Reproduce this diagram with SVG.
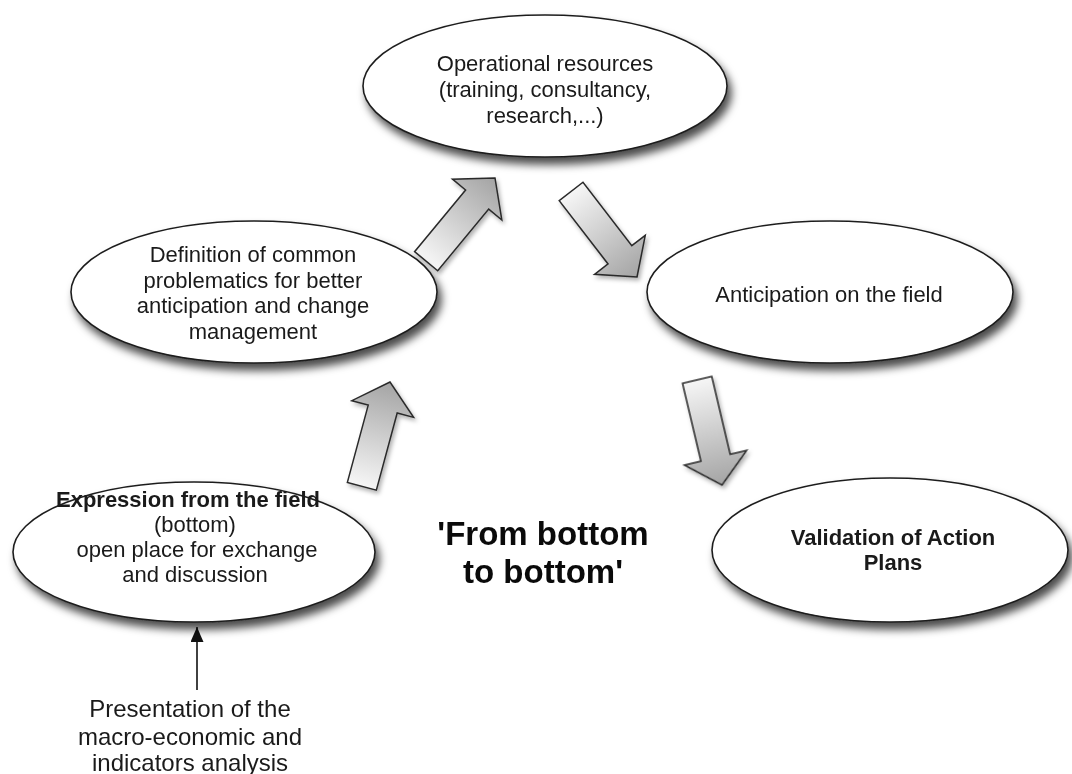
<svg xmlns="http://www.w3.org/2000/svg" width="1072" height="774" viewBox="0 0 1072 774">
  <style>
    .node { fill: #ffffff; stroke: #1e1e1e; stroke-width: 1.6; }
    .t { font-family: "Liberation Sans", Arial, sans-serif; font-size: 22px; fill: #1a1a1a; text-anchor: middle; }
    .b { font-weight: bold; }
    .big { font-family: "Liberation Sans", Arial, sans-serif; font-size: 33px; font-weight: bold; fill: #0a0a0a; text-anchor: middle; }
    .note { font-family: "Liberation Sans", Arial, sans-serif; font-size: 24px; fill: #1a1a1a; text-anchor: middle; }
    .fat { fill: url(#arrowFill); stroke: #2a2a2a; stroke-width: 1.5; stroke-linejoin: miter; }
    .thin { stroke: #111111; stroke-width: 1.6; fill: none; }
  </style>
  <defs>
    <filter id="nodeShadow" x="-20%" y="-25%" width="145%" height="160%">
      <feDropShadow dx="4" dy="7" stdDeviation="4" flood-color="#000000" flood-opacity="0.7"/>
    </filter>
    <filter id="arrowShadow" x="-30%" y="-30%" width="160%" height="160%">
      <feDropShadow dx="2" dy="3" stdDeviation="2" flood-color="#000000" flood-opacity="0.3"/>
    </filter>
    <linearGradient id="arrowFill" x1="0" y1="0" x2="1" y2="0">
      <stop offset="0" stop-color="#f6f6f6"/>
      <stop offset="1" stop-color="#a4a4a4"/>
    </linearGradient>
    <!-- block arrow, tip at origin, pointing along +x -->
    <path id="fatArrow" class="fat" d="M0,0 L-28,-32 L-28,-15 L-108,-15 L-108,15 L-28,15 L-28,32 Z"/>
    <marker id="head" markerUnits="userSpaceOnUse" markerWidth="14" markerHeight="16" refX="15" refY="6.5" orient="auto">
      <path d="M0,0 L15,6.5 L0,13 Z" fill="#111111"/>
    </marker>
  </defs>

  <!-- connectors -->
  <g id="connectors">
    <g filter="url(#arrowShadow)">
      <use href="#fatArrow" transform="translate(390,382) rotate(-74.9)"/>
      <use href="#fatArrow" transform="translate(495,178) rotate(-50.4)"/>
      <use href="#fatArrow" transform="translate(637,277) rotate(52.4)"/>
      <use href="#fatArrow" transform="translate(722,485) rotate(76.7)"/>
    </g>
    <line class="thin" x1="197" y1="690" x2="197" y2="627" marker-end="url(#head)"/>
  </g>

  <g id="operational-resources">
    <ellipse class="node" cx="545" cy="86" rx="182" ry="71" filter="url(#nodeShadow)"/>
    <text class="t" x="545" y="71">Operational resources</text>
    <text class="t" x="545" y="97">(training, consultancy,</text>
    <text class="t" x="545" y="123">research,...)</text>
  </g>

  <g id="definition">
    <ellipse class="node" cx="254" cy="292" rx="183" ry="71" filter="url(#nodeShadow)"/>
    <text class="t" x="253" y="262">Definition of common</text>
    <text class="t" x="253" y="288">problematics for better</text>
    <text class="t" x="253" y="313">anticipation and change</text>
    <text class="t" x="253" y="339">management</text>
  </g>

  <g id="anticipation">
    <ellipse class="node" cx="830" cy="292" rx="183" ry="71" filter="url(#nodeShadow)"/>
    <text class="t" x="829" y="302">Anticipation on the field</text>
  </g>

  <g id="expression">
    <ellipse class="node" cx="194" cy="552" rx="181" ry="70" filter="url(#nodeShadow)"/>
    <text class="t b" x="188" y="507">Expression from the field</text>
    <text class="t" x="195" y="532">(bottom)</text>
    <text class="t" x="197" y="557">open place for exchange</text>
    <text class="t" x="195" y="582">and discussion</text>
  </g>

  <g id="validation">
    <ellipse class="node" cx="890" cy="550" rx="178" ry="72" filter="url(#nodeShadow)"/>
    <text class="t b" x="893" y="545">Validation of Action</text>
    <text class="t b" x="893" y="570">Plans</text>
  </g>

  <g id="motto">
    <text class="big" x="543" y="545">'From bottom</text>
    <text class="big" x="543" y="583">to bottom'</text>
  </g>

  <g id="presentation">
    <text class="note" x="190" y="717">Presentation of the</text>
    <text class="note" x="190" y="745">macro-economic and</text>
    <text class="note" x="190" y="771">indicators analysis</text>
  </g>
</svg>
